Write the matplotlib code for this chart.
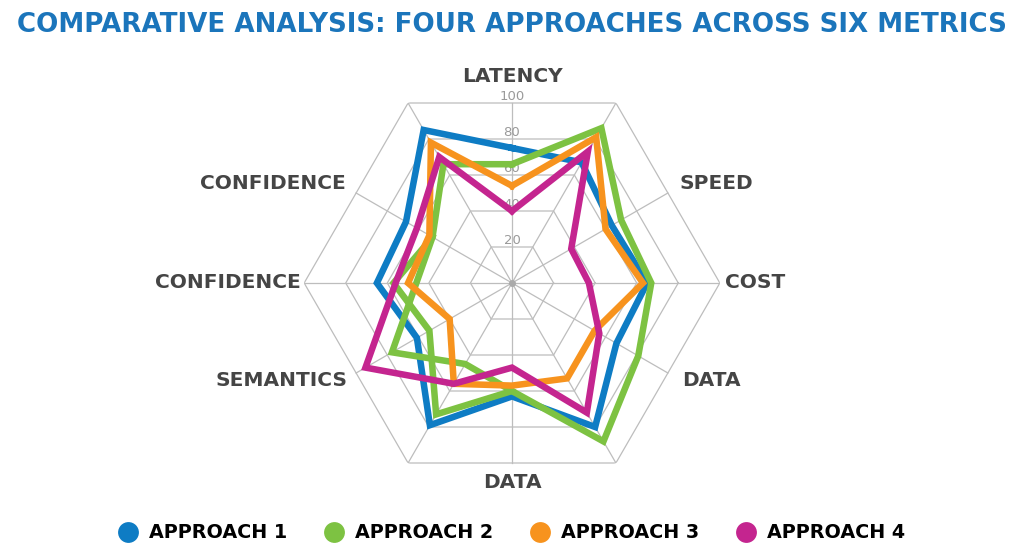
import numpy as np
import matplotlib
matplotlib.use("Agg")
import matplotlib.pyplot as plt
from matplotlib.lines import Line2D

# spokes, counter-clockwise from the top
spoke_angles = [90, 60, 30, 0, -30, -60, -90, -120, -150, 180, 150, 120]

# values in ring units (100 = outer hexagon)
approach1 = [75, 67, 64, 65, 67, 80, 63, 79, 61, 65, 68, 85]
approach2 = [66, 86, 70, 67, 81, 88, 60, 73, 53, 57, 51, 66]
approach3 = [54, 81, 60, 63, 53, 53, 57, 56, 40, 50, 53, 78]
approach4 = [40, 73, 38, 37, 56, 72, 47, 56, 94, 56, 61, 70]

# approach 2 has an extra inner loop on the lower left
approach2_loop_angles = [150, -150, -120, -90]
approach2_loop_values = [51, 77, 45, 60]

series_names = ["APPROACH 1", "APPROACH 2", "APPROACH 3", "APPROACH 4"]
series_colors = ["#0E7CC4", "#7DC242", "#F7931E", "#C4258F"]

ring_values = [20, 40, 60, 80, 100]

axis_labels = ["LATENCY", "SPEED", "COST", "DATA", "DATA",
               "SEMANTICS", "CONFIDENCE", "CONFIDENCE"]
label_angles = [90, 26, 0, -26, -90, 203, 180, 157.5]
label_radii = [115, 126, 135, 123, 111, 139, 158, 144]

title = "COMPARATIVE ANALYSIS: FOUR APPROACHES ACROSS SIX METRICS"


def hex_radius(angle, value):
    # hexagon vertices sit at multiples of 60 deg, edge midpoints in between
    if angle % 60 == 0:
        return value / np.cos(np.radians(30))
    return value


def polygon(angles, values, close=True):
    th = [np.radians(a) for a in angles]
    rr = [hex_radius(a, v) for a, v in zip(angles, values)]
    if close:
        th.append(th[0])
        rr.append(rr[0])
    return th, rr


W, H = 1024, 559
fig = plt.figure(figsize=(W / 100, H / 100), dpi=100)

cx, cy, apothem = 512, 283, 180
rmax = 100 / np.cos(np.radians(30))
rad_px = apothem * rmax / 100
ax = fig.add_axes([(cx - rad_px) / W, (H - cy - rad_px) / H,
                   2 * rad_px / W, 2 * rad_px / H], projection="polar")
ax.set_ylim(0, rmax)
ax.grid(False)
ax.set_xticks([])
ax.set_yticks([])
ax.spines["polar"].set_visible(False)
ax.patch.set_alpha(0)

grid_color = "#BDBDBD"
for v in ring_values:
    a = list(range(0, 360, 60))
    th, rr = polygon(a, [v] * len(a))
    ax.plot(th, rr, color=grid_color, lw=0.9, zorder=1)
for a in spoke_angles:
    ax.plot([np.radians(a)] * 2, [0, hex_radius(a, 100)],
            color=grid_color, lw=0.9, zorder=1)
ax.plot([0], [0], "o", color="#AAAAAA", ms=4, zorder=1)

for v in ring_values:
    ax.text(np.radians(90), v + 3.5, str(v), ha="center", va="center",
            fontsize=9.5, color="#9A9A9A", zorder=2)

all_series = [approach1, approach2, approach3, approach4]
for vals, col in zip(all_series, series_colors):
    th, rr = polygon(spoke_angles, vals)
    ax.plot(th, rr, color=col, lw=4.7, solid_joinstyle="miter", zorder=3)
    if vals is approach2:
        th2, rr2 = polygon(approach2_loop_angles, approach2_loop_values, close=False)
        ax.plot(th2, rr2, color=col, lw=4.7, solid_joinstyle="miter", zorder=3)

for lab, a, r in zip(axis_labels, label_angles, label_radii):
    ax.text(np.radians(a), r, lab, ha="center", va="center", fontsize=14.5,
            fontweight="bold", color="#454545")

fig.text(0.5, 1 - 25 / H, title, ha="center", va="center", fontsize=18.8,
         fontweight="bold", color="#1B75BB")

handles = [Line2D([], [], marker="o", ls="none", ms=15, color=c,
                  markeredgewidth=0) for c in series_colors]
fig.legend(handles, series_names, loc="center", bbox_to_anchor=(0.495, 1 - 533 / H),
           ncol=4, frameon=False, handletextpad=0.1, columnspacing=1.45,
           prop={"weight": "bold", "size": 13.8})

fig.savefig("out.png", dpi=100)
